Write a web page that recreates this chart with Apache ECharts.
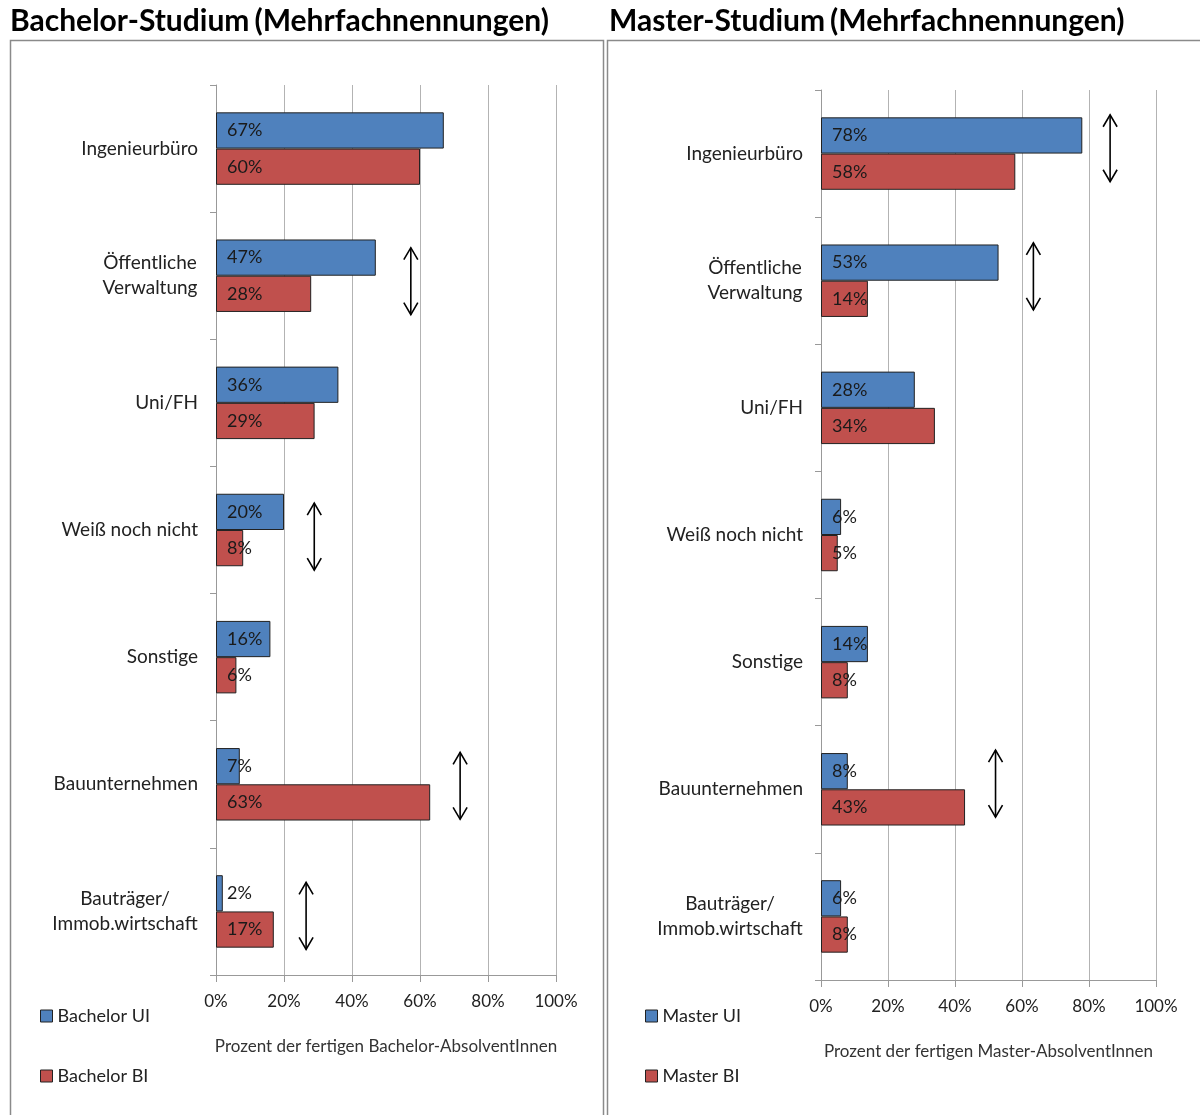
<!DOCTYPE html>
<html><head><meta charset="utf-8">
<script src="https://cdn.jsdelivr.net/npm/echarts@6/dist/echarts.min.js"></script>
<style>html,body{margin:0;padding:0;background:#fff}#c{width:1200px;height:1115px}</style>
</head><body><div id="c"></div>
<script>
const categories = ['Ingenieurbüro','Öffentliche\nVerwaltung','Uni/FH','Weiß noch nicht','Sonstige','Bauunternehmen','Bauträger/\nImmob.wirtschaft'];
const bachelorUI = [67,47,36,20,16,7,2];
const bachelorBI = [60,28,29,8,6,63,17];
const masterUI = [78,53,28,6,14,8,6];
const masterBI = [58,14,34,5,8,43,8];
const xTicks = [0,20,40,60,80,100];
// arrows: [x value in %, category index, vertical shift in px]
const arrowsBachelor = [[57.3,1,5.5],[28.9,3,6.7],[71.8,5,1.5],[26.5,6,4.5]];
const arrowsMaster = [[86.3,0,-5.3],[63.4,1,-4.4],[52.1,5,-5.7]];

const FONT = 'Lato';
const CAT_SIZE = 19;
const BLUE = '#4F81BD', RED = '#C0504D';
const chart = echarts.init(document.getElementById('c'));

// measure text to centre multi-line category labels within their own block
const mctx = document.createElement('canvas').getContext('2d');
mctx.font = CAT_SIZE + 'px ' + FONT;

function xAxis(gi, name){
  return {type:'value', gridIndex:gi, min:xTicks[0], max:xTicks[xTicks.length-1], interval:xTicks[1]-xTicks[0],
    name:name, nameLocation:'middle', nameGap:63,
    nameTextStyle:{fontFamily:FONT, fontSize:17, color:'#333'},
    axisLine:{show:true, lineStyle:{color:'#999'}},
    axisTick:{show:true, length:7, lineStyle:{color:'#999'}},
    axisLabel:{formatter:v=>v+'%', fontFamily:FONT, fontSize:17, color:'#222', margin:18},
    splitLine:{show:true, lineStyle:{color:'#b3b3b3', width:1}}};
}
function yAxis(gi){
  const rich = {};
  categories.forEach((v, i) => {
    const ls = v.split('\n');
    if (ls.length > 1) {
      const w = Math.ceil(Math.max(...ls.map(l => mctx.measureText(l).width)));
      rich['c' + i] = {width:w, align:'center', fontFamily:FONT, fontSize:CAT_SIZE, color:'#222', lineHeight:25};
    }
  });
  return {type:'category', gridIndex:gi, data:categories, inverse:true,
    axisLine:{show:true, lineStyle:{color:'#999'}},
    axisTick:{show:true, length:6, lineStyle:{color:'#999'}},
    axisLabel:{fontFamily:FONT, fontSize:CAT_SIZE, color:'#222', margin:18, align:'right', lineHeight:25,
      formatter:(v, i) => {
        const ls = v.split('\n');
        if (ls.length === 1) return v;
        return ls.map(l => '{c' + i + '|' + l + '}').join('\n');
      }, rich:rich},
    splitLine:{show:false}};
}
function bar(name, data, color, gi){
  return {type:'bar', name:name, data:data, xAxisIndex:gi, yAxisIndex:gi,
    barGap:'0%', barCategoryGap:'43%',
    itemStyle:{color:color, borderColor:'#222', borderWidth:1},
    label:{show:true, position:'insideLeft', distance:11, formatter:'{c}%',
      fontFamily:FONT, fontSize:18, color:'#1a1a1a'}};
}
function legend(names, left){
  return {data:names, orient:'vertical', left:left, top:1007, itemGap:42, padding:0,
    icon:'rect', itemWidth:12, itemHeight:12, itemStyle:{borderColor:'#222', borderWidth:1},
    textStyle:{fontFamily:FONT, fontSize:18, color:'#222'}};
}
function title(left, bold){
  return {left:left, top:6, padding:0, text:'{b|' + bold + '} {r|(Mehrfachnennungen)}',
    textStyle:{rich:{b:{fontFamily:FONT,fontWeight:'bold',fontSize:30,color:'#000'},r:{fontFamily:FONT,fontSize:30,color:'#000'}}}};
}

const option = {
  animation:false,
  title:[title(10,'Bachelor-Studium'), title(609,'Master-Studium')],
  grid:[
    {left:216, right:644, top:85, bottom:140},
    {left:821, right:44, top:90, bottom:135}
  ],
  xAxis:[xAxis(0,'Prozent der fertigen Bachelor-AbsolventInnen'), xAxis(1,'Prozent der fertigen Master-AbsolventInnen')],
  yAxis:[yAxis(0), yAxis(1)],
  legend:[legend(['Bachelor UI','Bachelor BI'],40), legend(['Master UI','Master BI'],645)],
  series:[
    bar('Bachelor UI', bachelorUI, BLUE, 0),
    bar('Bachelor BI', bachelorBI, RED, 0),
    bar('Master UI', masterUI, BLUE, 1),
    bar('Master BI', masterBI, RED, 1)
  ]
};
chart.setOption(option);

const graphics = [
  {type:'rect', shape:{x:10.5,y:40.5,width:593,height:1100}, style:{fill:null, stroke:'#8a8a8a', lineWidth:1.5}, z:-1},
  {type:'rect', shape:{x:607.5,y:40.5,width:600,height:1100}, style:{fill:null, stroke:'#8a8a8a', lineWidth:1.5}, z:-1}
];
function addArrows(list, gi){
  list.forEach(([xv, ci, dy])=>{
    const p = chart.convertToPixel({xAxisIndex:gi, yAxisIndex:gi}, [xv, ci]);
    const x = p[0], cy = p[1] + dy, h = 33.5;
    graphics.push({type:'line', shape:{x1:x,y1:cy-h,x2:x,y2:cy+h}, style:{stroke:'#000', lineWidth:1.6}, z:10});
    graphics.push({type:'polyline', shape:{points:[[x-7,cy-h+12],[x,cy-h],[x+7,cy-h+12]]}, style:{stroke:'#000', lineWidth:1.6, fill:null}, z:10});
    graphics.push({type:'polyline', shape:{points:[[x-7,cy+h-12],[x,cy+h],[x+7,cy+h-12]]}, style:{stroke:'#000', lineWidth:1.6, fill:null}, z:10});
  });
}
addArrows(arrowsBachelor, 0);
addArrows(arrowsMaster, 1);
chart.setOption({graphic:graphics});
</script></body></html>
